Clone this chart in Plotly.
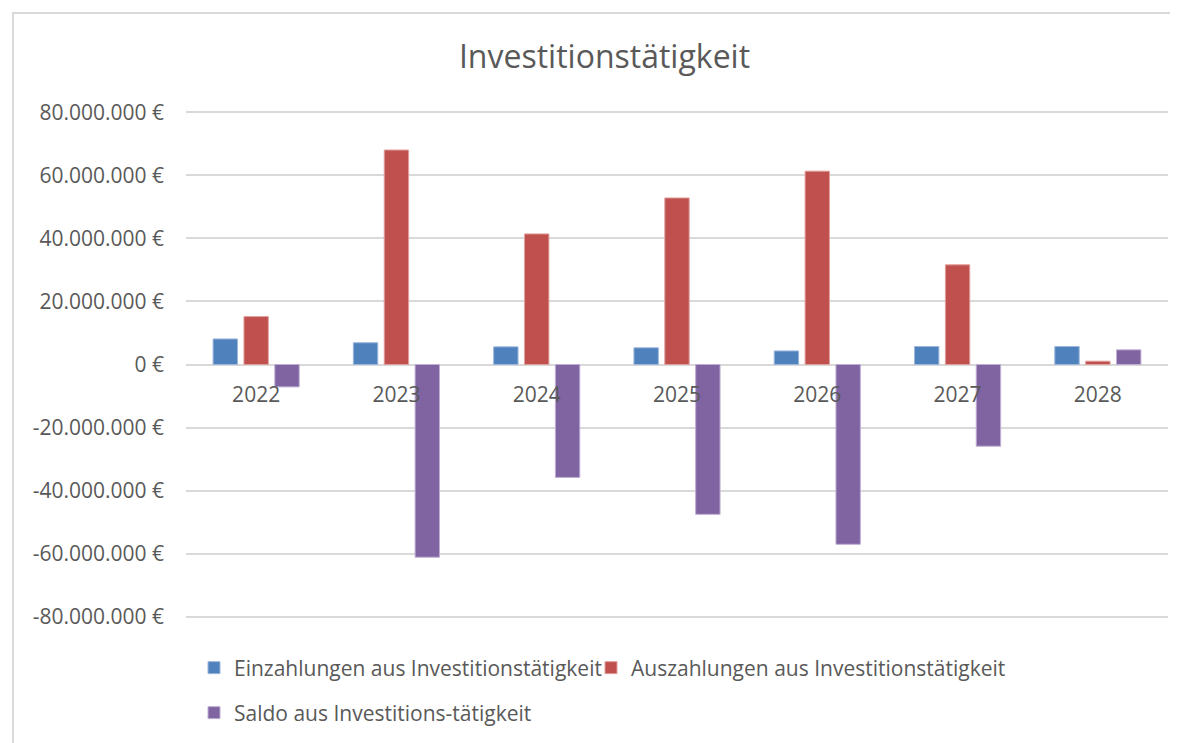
import plotly.graph_objects as go

years = ["2022", "2023", "2024", "2025", "2026", "2027", "2028"]
einzahlungen = [8100000, 6900000, 5600000, 5300000, 4300000, 5700000, 5700000]
auszahlungen = [15200000, 68000000, 41400000, 52800000, 61300000, 31600000, 1050000]
saldo = [-7100000, -61100000, -35800000, -47500000, -57000000, -25900000, 4650000]

tick_vals = [-80000000, -60000000, -40000000, -20000000, 0, 20000000, 40000000, 60000000, 80000000]
tick_text = ["-80.000.000 €", "-60.000.000 €", "-40.000.000 €", "-20.000.000 €", "0 €",
             "20.000.000 €", "40.000.000 €", "60.000.000 €", "80.000.000 €"]

# the page body has an 8px margin, so the figure is drawn 8px in and made 8px smaller
OFF = 8
W, H = 1178 - OFF, 743 - OFF
L, R, T, B = 178, 10, 101, 123
font_family = "Open Sans, sans-serif"
grey = "#595959"
pw, ph = W - L - R, H - T - B


def py(pix):
    # page row -> paper y
    return (H - B - (pix - OFF)) / ph


def px_(pix):
    # page column -> paper x
    return (pix - OFF - L) / pw


fig = go.Figure()
fig.add_bar(x=years, y=einzahlungen, name="Einzahlungen aus Investitionstätigkeit",
            marker=dict(color="#4F81BD", line=dict(color="#9bb7dc", width=1)), legend="legend")
fig.add_bar(x=years, y=auszahlungen, name="Auszahlungen aus Investitionstätigkeit",
            marker=dict(color="#C0504D", line=dict(color="#e0a09e", width=1)), legend="legend3")
fig.add_bar(x=years, y=saldo, name="Saldo aus Investitions-tätigkeit",
            marker=dict(color="#8064A2", line=dict(color="#bfaed4", width=1)), legend="legend2")

# outer chart border (Excel style)
fig.add_shape(type="rect", xref="paper", yref="paper",
              x0=px_(13), x1=px_(1200), y0=py(760), y1=py(13),
              line=dict(color="#d9d9d9", width=2), layer="below")

leg = dict(orientation="h", xanchor="left", yanchor="middle",
           font=dict(size=21, color=grey, family=font_family),
           bgcolor="rgba(0,0,0,0)")

fig.update_layout(
    width=W, height=H,
    margin=dict(l=L, r=R, t=T, b=B, autoexpand=False),
    paper_bgcolor="white", plot_bgcolor="white",
    font=dict(family=font_family, color=grey, size=21),
    title=dict(text="Investitionstätigkeit", x=(604.5 - OFF) / W, xanchor="center", xref="container",
               y=1 - (57 - OFF) / H, yanchor="middle",
               font=dict(size=32, color=grey, family=font_family)),
    barmode="group", bargap=0.34, bargroupgap=0.21,
    showlegend=True,
    legend=dict(leg, x=px_(194), y=py(668)),
    legend3=dict(leg, x=px_(591), y=py(668)),
    legend2=dict(leg, x=px_(194), y=py(713)),
)
fig.update_xaxes(anchor="free", position=0.5, showline=False, ticks="",
                 showgrid=False, ticklabelstandoff=15, tickfont=dict(size=21, color=grey))
fig.update_yaxes(range=[-81000000, 81000000], tickvals=tick_vals, ticktext=tick_text,
                 showgrid=True, gridcolor="#d9d9d9", gridwidth=1.5,
                 zeroline=True, zerolinecolor="#d9d9d9", zerolinewidth=1.5,
                 showline=False, ticks="", ticklabelstandoff=21,
                 tickfont=dict(size=21, color=grey))

fig.write_html("out.html")
